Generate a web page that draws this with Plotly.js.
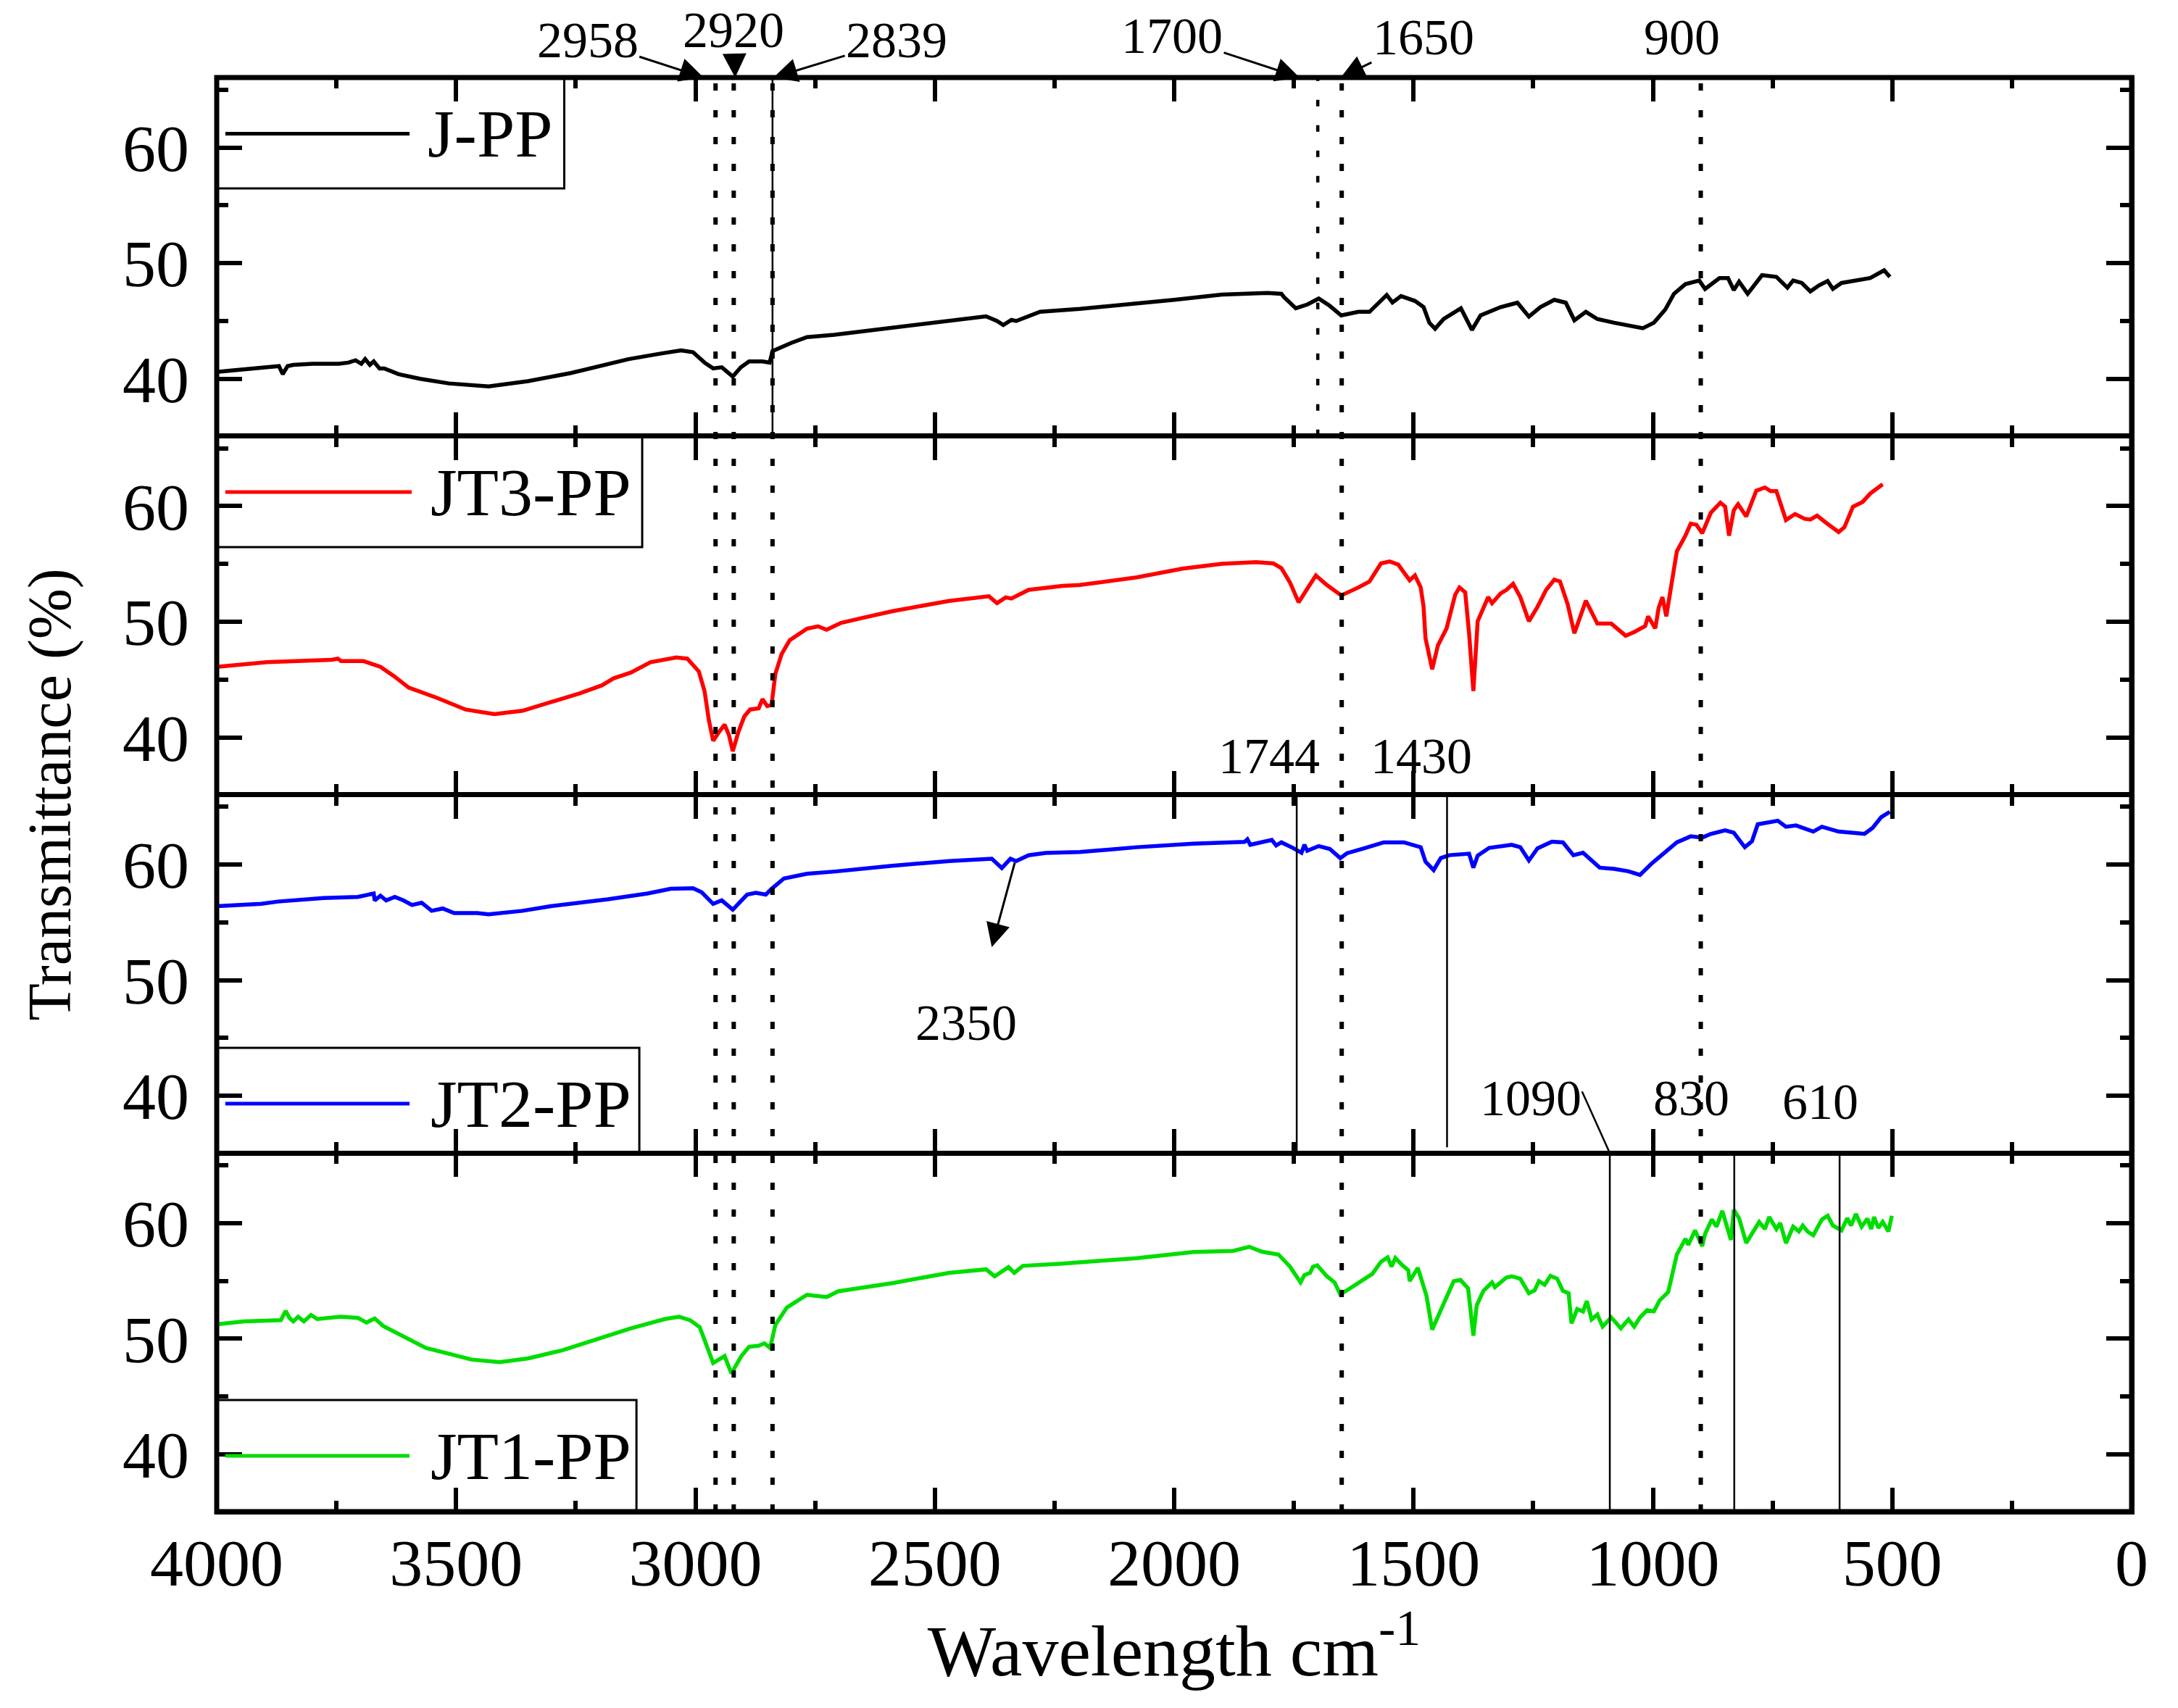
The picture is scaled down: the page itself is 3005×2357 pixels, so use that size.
<!DOCTYPE html>
<html>
<head>
<meta charset="utf-8">
<script src="https://cdn.plot.ly/plotly-3.0.1.min.js"></script>
<style>
  body { margin: 0; background: #fff; }
  #chart { width: 3005px; height: 2357px; }
</style>
</head>
<body>
<div id="chart"></div>
<script>
// wavenumbers (cm-1) and transmittance (%)
const jppWave = [4000, 3870, 3862, 3852, 3840, 3800, 3745, 3725, 3710, 3698, 3690, 3680, 3672, 3660, 3650, 3620, 3575, 3515, 3432, 3350, 3260, 3140, 3070, 3030, 3005, 2981, 2963, 2945, 2922, 2905, 2888, 2860, 2845, 2839, 2800, 2767, 2710, 2630, 2470, 2393, 2370, 2357, 2340, 2330, 2280, 2197, 2000, 1900, 1805, 1776, 1770, 1746, 1722, 1698, 1675, 1651, 1615, 1592, 1556, 1544, 1526, 1497, 1479, 1467, 1455, 1437, 1401, 1378, 1360, 1318, 1283, 1259, 1235, 1206, 1182, 1164, 1140, 1116, 1081, 1033, 1021, 998, 974, 956, 932, 903, 891, 861, 843, 831, 820, 802, 772, 742, 719, 707, 689, 671, 653, 635, 624, 606, 546, 517, 505];
const jppT = [40.6, 41.1, 40.4, 41.1, 41.2, 41.3, 41.3, 41.4, 41.6, 41.3, 41.7, 41.2, 41.5, 40.9, 40.9, 40.4, 40.0, 39.6, 39.35, 39.8, 40.5, 41.7, 42.2, 42.45, 42.3, 41.4, 40.9, 41.0, 40.2, 41.0, 41.5, 41.5, 41.4, 42.4, 43.1, 43.6, 43.8, 44.2, 45.0, 45.4, 45.0, 44.65, 45.1, 45.0, 45.8, 46.04, 46.83, 47.29, 47.42, 47.35, 47.04, 46.1, 46.42, 46.94, 46.31, 45.48, 45.79, 45.79, 47.25, 46.6, 47.15, 46.73, 46.2, 44.85, 44.33, 45.17, 46.1, 44.23, 45.48, 46.2, 46.58, 45.38, 46.2, 46.83, 46.58, 45.06, 45.79, 45.17, 44.85, 44.44, 44.38, 44.85, 46.0, 47.35, 48.19, 48.5, 47.77, 48.71, 48.71, 47.67, 48.4, 47.35, 48.96, 48.81, 47.88, 48.5, 48.29, 47.56, 48.08, 48.46, 47.77, 48.29, 48.71, 49.38, 48.81];

const jt3Wave = [4000, 3895, 3760, 3747, 3740, 3694, 3658, 3630, 3599, 3539, 3480, 3420, 3361, 3302, 3242, 3195, 3171, 3135, 3094, 3040, 3017, 2993, 2981, 2972, 2963, 2950, 2939, 2930, 2922, 2910, 2898, 2886, 2868, 2860, 2850, 2841, 2833, 2820, 2803, 2767, 2744, 2726, 2696, 2649, 2589, 2470, 2387, 2370, 2352, 2340, 2304, 2233, 2197, 2078, 1983, 1900, 1829, 1793, 1776, 1758, 1740, 1722, 1704, 1681, 1651, 1615, 1592, 1568, 1550, 1532, 1508, 1497, 1485, 1479, 1475, 1461, 1449, 1431, 1413, 1404, 1392, 1384, 1375, 1366, 1354, 1344, 1336, 1318, 1306, 1292, 1277, 1259, 1241, 1223, 1206, 1194, 1178, 1164, 1140, 1116, 1087, 1057, 1039, 1016, 1010, 995, 988, 980, 972, 950, 932, 921, 909, 897, 879, 859, 849, 841, 831, 822, 805, 784, 766, 754, 742, 722, 703, 683, 671, 657, 639, 612, 600, 582, 562, 546, 520];
const jt3T = [46.1, 46.5, 46.7, 46.8, 46.6, 46.6, 46.1, 45.3, 44.3, 43.4, 42.4, 42.0, 42.3, 43.0, 43.8, 44.5, 45.1, 45.6, 46.5, 46.9, 46.8, 45.7, 44.0, 41.5, 39.7, 40.5, 41.1, 40.2, 38.8, 40.5, 41.8, 42.4, 42.5, 43.3, 42.7, 42.8, 45.5, 47.2, 48.4, 49.4, 49.6, 49.3, 49.9, 50.35, 50.9, 51.8, 52.2, 51.6, 52.1, 52.0, 52.75, 53.1, 53.17, 53.83, 54.58, 55.0, 55.15, 55.04, 54.63, 53.38, 51.67, 52.85, 54.0, 53.17, 52.27, 52.96, 53.48, 55.04, 55.21, 54.94, 53.58, 54.0, 52.96, 51.29, 48.58, 45.88, 47.96, 49.42, 52.33, 52.96, 52.54, 49.0, 44.0, 50.04, 51.29, 52.13, 51.6, 52.44, 52.75, 53.27, 52.13, 50.04, 51.29, 52.75, 53.63, 53.48, 51.5, 49.0, 51.81, 49.83, 49.83, 48.79, 49.1, 49.63, 50.46, 49.42, 51.19, 52.13, 50.46, 56.08, 57.44, 58.48, 58.38, 57.65, 59.42, 60.29, 59.94, 57.44, 59.63, 60.15, 59.1, 61.33, 61.6, 61.29, 61.29, 58.79, 59.31, 58.9, 58.83, 59.17, 58.58, 57.75, 58.17, 59.94, 60.35, 61.08, 61.88];

const jt2Wave = [4000, 3907, 3872, 3777, 3705, 3672, 3670, 3658, 3646, 3628, 3610, 3592, 3572, 3551, 3528, 3504, 3456, 3432, 3361, 3302, 3183, 3100, 3052, 3005, 2987, 2963, 2945, 2922, 2892, 2874, 2853, 2841, 2815, 2767, 2708, 2589, 2470, 2381, 2360, 2342, 2330, 2304, 2268, 2197, 2078, 1960, 1853, 1847, 1841, 1817, 1796, 1787, 1776, 1752, 1734, 1728, 1722, 1698, 1675, 1653, 1639, 1603, 1562, 1520, 1485, 1475, 1458, 1443, 1425, 1384, 1375, 1366, 1342, 1295, 1277, 1259, 1241, 1211, 1188, 1166, 1146, 1111, 1081, 1051, 1027, 1004, 986, 968, 950, 921, 897, 879, 849, 831, 808, 793, 781, 739, 722, 701, 665, 647, 612, 582, 558, 541, 523, 505];
const jt2T = [56.4, 56.6, 56.8, 57.1, 57.2, 57.5, 56.9, 57.3, 56.9, 57.2, 56.9, 56.5, 56.7, 56.0, 56.2, 55.8, 55.8, 55.7, 56.0, 56.4, 57.0, 57.5, 57.9, 57.95, 57.6, 56.6, 56.9, 56.1, 57.4, 57.55, 57.4, 57.9, 58.8, 59.2, 59.4, 59.9, 60.3, 60.5, 59.7, 60.5, 60.3, 60.8, 61.0, 61.08, 61.5, 61.81, 61.96, 62.19, 61.71, 61.96, 62.13, 61.65, 61.92, 61.44, 61.02, 61.71, 61.19, 61.6, 61.35, 60.56, 60.98, 61.4, 61.92, 61.92, 61.5, 60.25, 59.52, 60.56, 60.81, 60.94, 59.73, 60.77, 61.44, 61.71, 61.5, 60.35, 61.4, 61.98, 61.92, 60.81, 61.02, 59.73, 59.63, 59.42, 59.1, 60.04, 60.67, 61.29, 61.92, 62.44, 62.33, 62.65, 62.96, 62.75, 61.5, 62.02, 63.48, 63.79, 63.27, 63.38, 62.85, 63.27, 62.85, 62.75, 62.65, 63.17, 64.1, 64.56];

const jt1Wave = [4000, 3943, 3866, 3856, 3848, 3840, 3830, 3818, 3803, 3790, 3741, 3705, 3687, 3670, 3652, 3610, 3563, 3515, 3468, 3409, 3349, 3278, 3207, 3135, 3064, 3034, 3011, 2991, 2963, 2939, 2925, 2904, 2888, 2868, 2856, 2844, 2833, 2809, 2767, 2726, 2702, 2589, 2470, 2393, 2375, 2346, 2334, 2316, 2233, 2197, 2078, 1960, 1877, 1843, 1817, 1782, 1758, 1736, 1728, 1716, 1710, 1701, 1681, 1665, 1653, 1633, 1615, 1586, 1568, 1554, 1546, 1538, 1523, 1511, 1508, 1491, 1473, 1461, 1443, 1428, 1416, 1402, 1386, 1375, 1368, 1354, 1336, 1330, 1306, 1295, 1277, 1259, 1247, 1238, 1226, 1214, 1200, 1188, 1176, 1170, 1158, 1146, 1138, 1128, 1116, 1105, 1087, 1067, 1051, 1039, 1027, 1012, 998, 986, 968, 950, 932, 926, 912, 897, 891, 877, 867, 855, 837, 831, 820, 805, 790, 778, 766, 757, 742, 734, 722, 707, 695, 687, 677, 665, 647, 635, 624, 606, 594, 586, 576, 564, 552, 544, 538, 529, 520, 508, 501];
const jt1T = [51.25, 51.5, 51.6, 52.4, 51.8, 51.5, 51.9, 51.5, 52.05, 51.7, 51.9, 51.8, 51.4, 51.75, 51.1, 50.2, 49.2, 48.7, 48.2, 47.97, 48.3, 49.0, 49.96, 50.9, 51.7, 51.9, 51.6, 51.0, 47.9, 48.5, 47.0, 48.5, 49.3, 49.4, 49.6, 49.2, 51.2, 52.7, 53.8, 53.6, 54.1, 54.8, 55.7, 56.0, 55.4, 56.2, 55.7, 56.3, 56.5, 56.61, 56.97, 57.49, 57.59, 57.95, 57.53, 57.28, 56.23, 54.87, 55.5, 55.71, 56.23, 56.34, 55.4, 54.87, 53.83, 54.35, 54.87, 55.61, 56.65, 57.03, 56.23, 56.97, 56.34, 55.92, 54.98, 56.13, 53.72, 50.79, 52.47, 53.93, 54.98, 55.08, 54.35, 50.27, 52.89, 54.14, 54.87, 54.46, 55.29, 55.4, 55.19, 53.93, 54.18, 54.98, 54.67, 55.44, 55.19, 54.14, 53.93, 51.32, 52.57, 52.36, 53.26, 51.67, 52.09, 51.05, 51.84, 50.9, 51.67, 51.05, 51.84, 52.47, 52.36, 53.31, 54.04, 57.28, 58.64, 58.12, 59.37, 58.01, 59.06, 60.31, 59.69, 61.05, 58.54, 61.15, 60.42, 58.28, 59.37, 60.1, 59.48, 60.52, 59.48, 60.0, 58.26, 59.69, 59.27, 59.79, 59.27, 58.95, 60.31, 60.63, 59.79, 59.37, 60.42, 59.79, 60.79, 59.69, 60.38, 59.48, 60.52, 59.58, 60.1, 59.27, 60.63];

const seriesNames = ["J-PP", "JT3-PP", "JT2-PP", "JT1-PP"];
const seriesColors = ["#000000", "#ff0000", "#0000ff", "#00dd00"];

// marked bands
const dottedAll = [2958, 2920, 2839, 1650, 900];
const topLabels = [
  { text: "2958", at: 2983, ax: -160, ay: -52 },
  { text: "2920", at: 2917, ax: -2, ay: -66 },
  { text: "2839", at: 2837, ax: 170, ay: -52 },
  { text: "1700", at: 1738, ax: -176, ay: -58 },
  { text: "1650", at: 1652, ax: 114, ay: -56 },
];

const FONT = "Liberation Serif, Times New Roman, serif";

// panels from top to bottom
const panelDomains = [[0.75, 1], [0.5, 0.75], [0.25, 0.5], [0, 0.25]];
const waves = [jppWave, jt3Wave, jt2Wave, jt1Wave];
const values = [jppT, jt3T, jt2T, jt1T];

const traces = seriesNames.map((name, i) => {
  const n = 4 - i; // JT1-PP sits on x/y (bottom)
  const sfx = n === 1 ? "" : String(n);
  return {
    x: waves[i],
    y: values[i],
    type: "scatter",
    mode: "lines",
    name: name,
    xaxis: "x" + sfx,
    yaxis: "y" + sfx,
    line: { color: seriesColors[i], width: 5.5 },
    showlegend: false,
  };
});

function xAxis(n) {
  const ax = {
    domain: [0, 1],
    anchor: n === 1 ? "y" : "y" + n,
    range: [4000, 0],
    tick0: 0,
    dtick: 500,
    ticks: "inside",
    ticklen: 33,
    tickwidth: 6,
    tickcolor: "#000",
    minor: { dtick: 250, ticks: "inside", ticklen: 15, tickwidth: 6, tickcolor: "#000" },
    showline: true,
    linewidth: 3.5,
    linecolor: "#000",
    mirror: "ticks",
    showgrid: false,
    zeroline: false,
    showticklabels: n === 1,
    tickfont: { family: FONT, size: 92, color: "#000" },
    ticklabelstandoff: -12,
    automargin: false,
  };
  if (n !== 1) ax.matches = "x";
  else ax.title = { text: "Wavelength cm<sup>-1</sup>", font: { family: FONT, size: 100, color: "#000" }, standoff: 0 };
  return ax;
}

function yAxis(n) {
  return {
    domain: panelDomains[4 - n],
    anchor: n === 1 ? "x" : "x" + n,
    range: [35.05, 66.05],
    tick0: 0,
    dtick: 10,
    ticks: "inside",
    ticklen: 35,
    tickwidth: 6,
    tickcolor: "#000",
    minor: { dtick: 5, ticks: "inside", ticklen: 16, tickwidth: 6, tickcolor: "#000" },
    showline: true,
    linewidth: 3.5,
    linecolor: "#000",
    mirror: "ticks",
    showgrid: false,
    zeroline: false,
    tickfont: { family: FONT, size: 92, color: "#000" },
    ticklabelstandoff: 16,
    automargin: false,
  };
}

const shapes = [];
// outer frame, same weight as the panel joins
shapes.push({ type: "rect", xref: "paper", yref: "paper", x0: 0, x1: 1, y0: 0, y1: 1,
  line: { color: "#000", width: 7 }, fillcolor: "rgba(0,0,0,0)" });
dottedAll.forEach((w) => {
  shapes.push({ type: "line", xref: "x", yref: "paper", x0: w, x1: w, y0: 0, y1: 1,
    line: { color: "#000", width: 6, dash: "10px,27px" } });
});
// 1700 only in the top panel
shapes.push({ type: "line", xref: "x", yref: "paper", x0: 1700, x1: 1700, y0: 0.75, y1: 1,
  line: { color: "#000", width: 4.5, dash: "9px,26px" } });
// thin solid markers
[[2839, 0.75, 1], [1744, 0.25, 0.5], [1430, 0.254, 0.5], [1090, 0, 0.25], [830, 0, 0.25], [610, 0, 0.25]].forEach(([w, a, b]) => {
  shapes.push({ type: "line", xref: "x", yref: "paper", x0: w, x1: w, y0: a, y1: b,
    line: { color: "#000", width: 2.5 } });
});
shapes.push({ type: "line", xref: "x", yref: "paper", x0: 1148, x1: 1090, y0: 0.293, y1: 0.25,
  line: { color: "#000", width: 2.5 } });

// legend boxes, one per panel
const legendBoxes = [
  { x1: 0.1815, y0: 0.9227, y1: 1, ly: 0.9609, lx1: 0.1007, tx: 0.1094 },
  { x1: 0.2222, y0: 0.6726, y1: 0.75, ly: 0.711, lx1: 0.1018, tx: 0.1109 },
  { x1: 0.2207, y0: 0.25, y1: 0.3234, ly: 0.2845, lx1: 0.1007, tx: 0.1109 },
  { x1: 0.2192, y0: 0, y1: 0.0778, ly: 0.0389, lx1: 0.1007, tx: 0.1109 },
];
const annotations = [];
legendBoxes.forEach((b, i) => {
  shapes.push({ type: "rect", xref: "paper", yref: "paper", x0: 0, x1: b.x1, y0: b.y0, y1: b.y1,
    line: { color: "#000", width: 3 }, fillcolor: "rgba(255,255,255,0)" });
  shapes.push({ type: "line", xref: "paper", yref: "paper", x0: 0.0045, x1: b.lx1, y0: b.ly, y1: b.ly,
    line: { color: seriesColors[i], width: 5 } });
  annotations.push({ xref: "paper", yref: "paper", x: b.tx, y: b.ly, xanchor: "left", yanchor: "middle",
    text: seriesNames[i], showarrow: false, font: { family: FONT, size: 94, color: "#000" } });
});

topLabels.forEach((t) => {
  annotations.push({ xref: "x", yref: "paper", x: t.at, y: 1.0, text: t.text, showarrow: true,
    ax: t.ax, ay: t.ay, arrowhead: 2, arrowsize: 2.2, arrowwidth: 3, arrowcolor: "#000",
    font: { family: FONT, size: 70, color: "#000" } });
});
const plainLabels = [
  { text: "900", x: 940, y: 1.0278 },
  { text: "2350", x: 2434, y: 0.3406 },
  { text: "1744", x: 1802, y: 0.527 },
  { text: "1430", x: 1484, y: 0.527 },
  { text: "1090", x: 1255, y: 0.2885 },
  { text: "830", x: 920, y: 0.2885 },
  { text: "610", x: 651, y: 0.286 },
];
plainLabels.forEach((t) => {
  annotations.push({ xref: "x", yref: "paper", x: t.x, y: t.y, text: t.text, showarrow: false,
    xanchor: "center", yanchor: "middle", font: { family: FONT, size: 70, color: "#000" } });
});
// arrow for 2350
annotations.push({ xref: "x", yref: "paper", x: 2381, y: 0.3936, text: " ", showarrow: true,
  ax: 34, ay: -125, arrowhead: 2, arrowsize: 2.2, arrowwidth: 3, arrowcolor: "#000", standoff: 0 });
// shared y title
annotations.push({ xref: "paper", yref: "paper", x: -0.0874, y: 0.5, xanchor: "center", yanchor: "middle",
  text: "Transmittance (%)", textangle: -90, showarrow: false, font: { family: FONT, size: 84, color: "#000" } });

const layout = {
  width: 3005,
  height: 2357,
  margin: { l: 299, r: 64, t: 107, b: 271 },
  paper_bgcolor: "#fff",
  plot_bgcolor: "#fff",
  showlegend: false,
  font: { family: FONT, color: "#000" },
  xaxis: xAxis(1), xaxis2: xAxis(2), xaxis3: xAxis(3), xaxis4: xAxis(4),
  yaxis: yAxis(1), yaxis2: yAxis(2), yaxis3: yAxis(3), yaxis4: yAxis(4),
  shapes: shapes,
  annotations: annotations,
};

Plotly.newPlot("chart", traces, layout, { displayModeBar: false, staticPlot: true });
</script>
</body>
</html>
